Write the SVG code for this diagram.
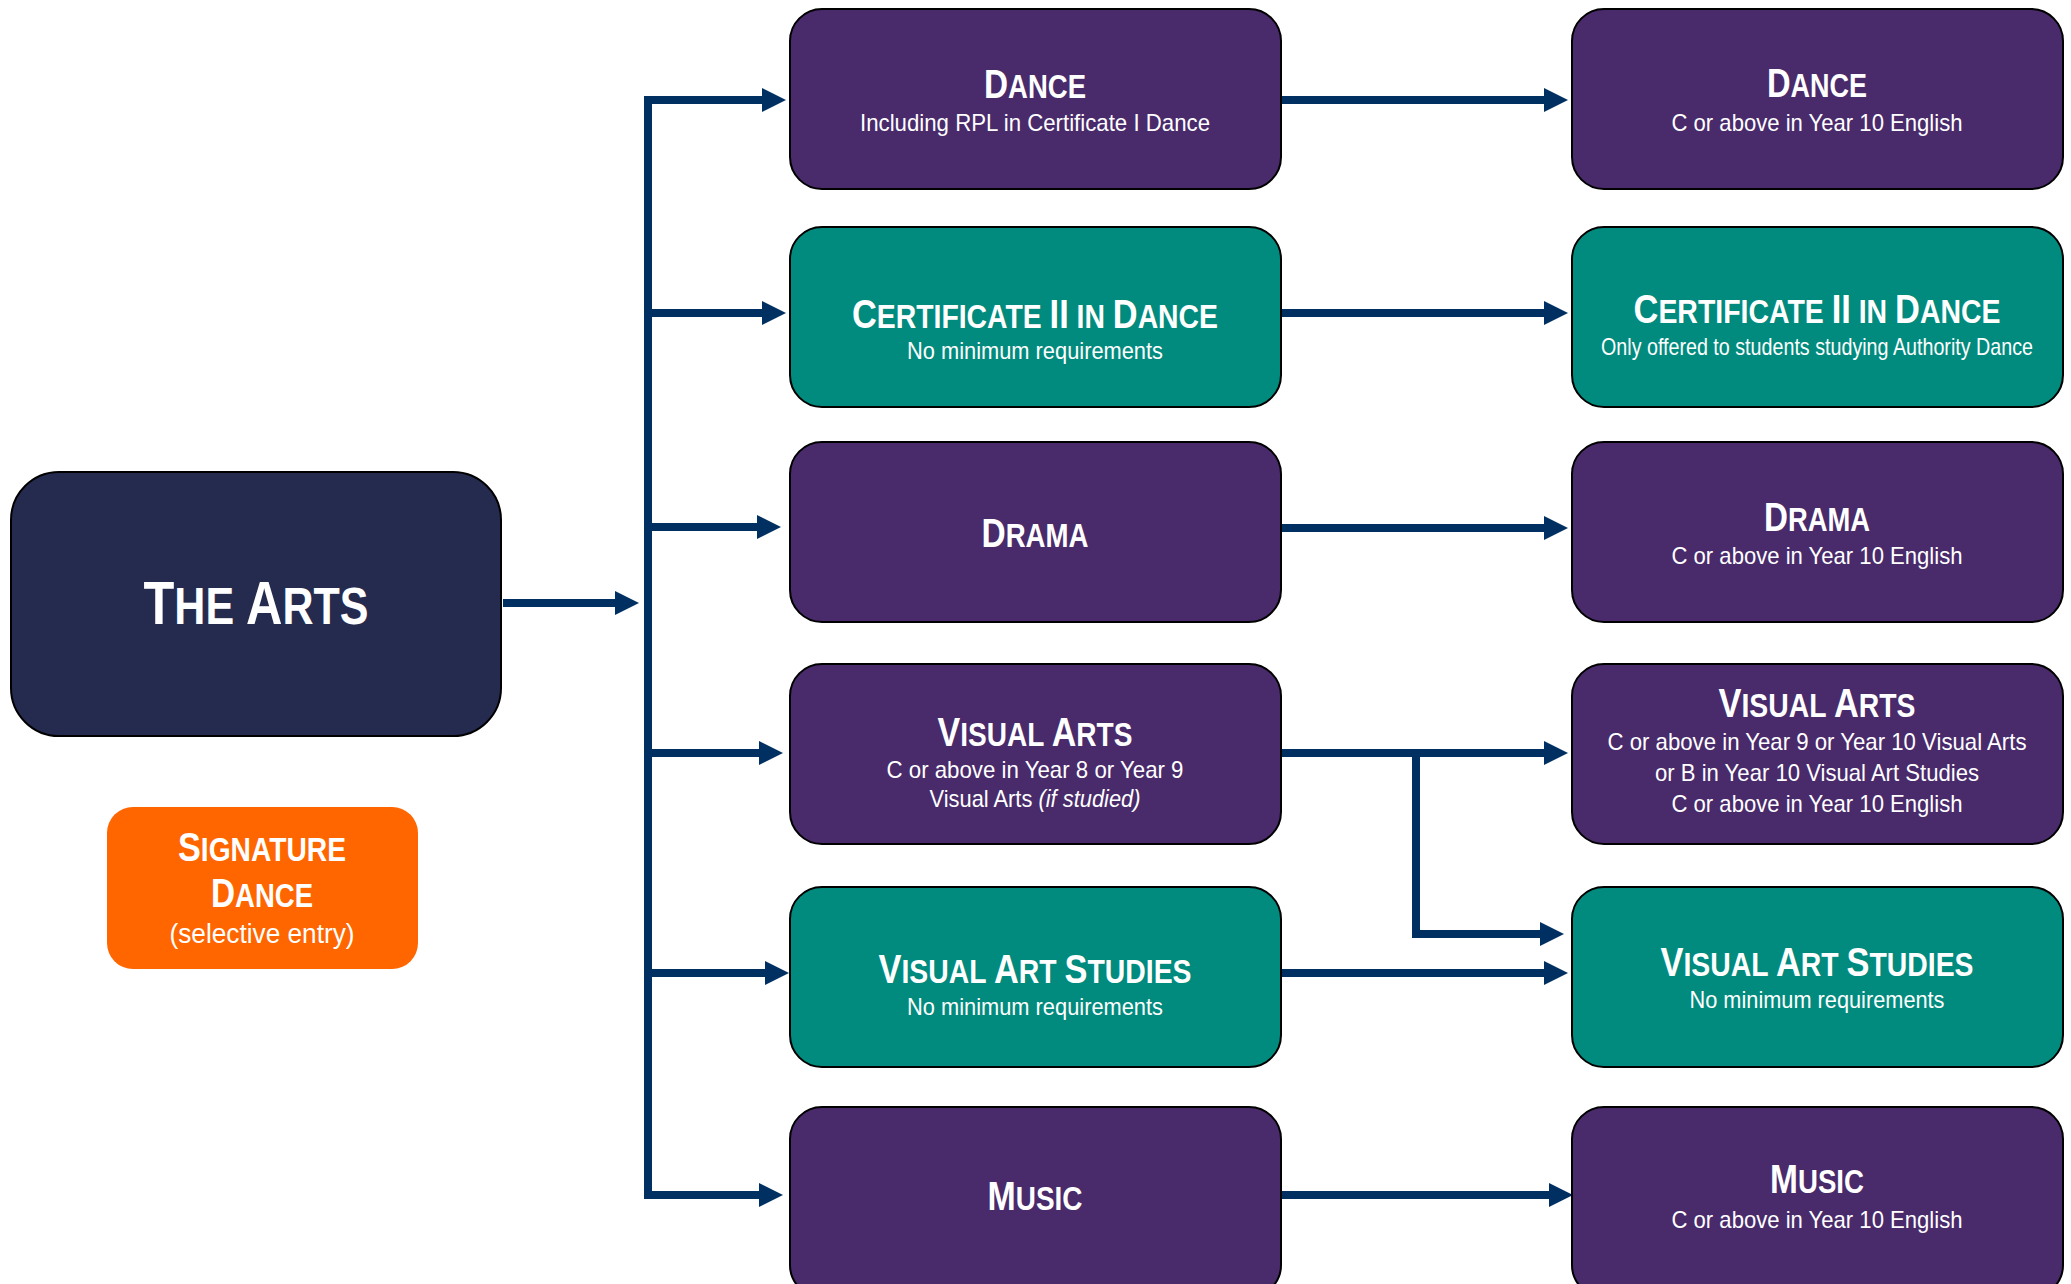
<svg xmlns="http://www.w3.org/2000/svg" width="2071" height="1284" viewBox="0 0 2071 1284">
<style>
.bg{fill:#ffffff}
.purple{fill:#492A6B;stroke:#000;stroke-width:2}
.teal{fill:#008B7E;stroke:#000;stroke-width:2}
.navy{fill:#252B4E;stroke:#000;stroke-width:2}
.orange{fill:#FF6600}
text{font-family:"Liberation Sans Narrow","Liberation Sans",Arial,sans-serif;fill:#fff;text-anchor:middle}
.t{font-size:33px;font-weight:bold}
.t .c{font-size:40px}
.s{font-size:24px}
.big{font-size:52px;font-weight:bold}
.big .c{font-size:61px}
.conn{fill:none;stroke:#002F62;stroke-width:8}
</style>
<defs>
<marker id="ah" markerUnits="userSpaceOnUse" markerWidth="26" markerHeight="26" refX="0" refY="13" orient="auto">
<path d="M0,1 L24,13 L0,25 Z" fill="#002F62"/>
</marker>
</defs>
<rect class="bg" x="0" y="0" width="2071" height="1284"/>

<g id="connectors">
<path class="conn" d="M503,603 H615" marker-end="url(#ah)"/>
<path class="conn" d="M648,96 V1199"/>
<path class="conn" d="M644,100 H762" marker-end="url(#ah)"/>
<path class="conn" d="M652,313 H762" marker-end="url(#ah)"/>
<path class="conn" d="M652,527 H757" marker-end="url(#ah)"/>
<path class="conn" d="M652,753 H759" marker-end="url(#ah)"/>
<path class="conn" d="M652,973 H765" marker-end="url(#ah)"/>
<path class="conn" d="M644,1195 H759" marker-end="url(#ah)"/>
<path class="conn" d="M1282,100 H1544" marker-end="url(#ah)"/>
<path class="conn" d="M1282,313 H1544" marker-end="url(#ah)"/>
<path class="conn" d="M1282,528 H1544" marker-end="url(#ah)"/>
<path class="conn" d="M1282,753 H1544" marker-end="url(#ah)"/>
<path class="conn" d="M1416,753 V934 H1540" marker-end="url(#ah)"/>
<path class="conn" d="M1282,973 H1544" marker-end="url(#ah)"/>
<path class="conn" d="M1282,1195 H1549" marker-end="url(#ah)"/>
</g>

<g id="the-arts">
<rect class="navy" x="11" y="472" width="490" height="264" rx="48"/>
<text class="big" x="256" y="624" textLength="225" lengthAdjust="spacingAndGlyphs"><tspan class="c">T</tspan>HE <tspan class="c">A</tspan>RTS</text>
</g>

<g id="signature-dance">
<rect class="orange" x="107" y="807" width="311" height="162" rx="26"/>
<text class="t" x="262" y="861" textLength="168" lengthAdjust="spacingAndGlyphs"><tspan class="c">S</tspan>IGNATURE</text>
<text class="t" x="262" y="907" textLength="102" lengthAdjust="spacingAndGlyphs"><tspan class="c">D</tspan>ANCE</text>
<text x="262" y="943" style="font-size:27px" textLength="185" lengthAdjust="spacingAndGlyphs">(selective entry)</text>
</g>

<g id="m-dance">
<rect class="purple" x="790" y="9" width="491" height="180" rx="32"/>
<text class="t" x="1035" y="98" textLength="102" lengthAdjust="spacingAndGlyphs"><tspan class="c">D</tspan>ANCE</text>
<text class="s" x="1035" y="131" textLength="350" lengthAdjust="spacingAndGlyphs">Including RPL in Certificate I  Dance</text>
</g>

<g id="m-cert2">
<rect class="teal" x="790" y="227" width="491" height="180" rx="32"/>
<text class="t" x="1035" y="328" textLength="366" lengthAdjust="spacingAndGlyphs"><tspan class="c">C</tspan>ERTIFICATE <tspan class="c">II</tspan> IN <tspan class="c">D</tspan>ANCE</text>
<text class="s" x="1035" y="359" textLength="256" lengthAdjust="spacingAndGlyphs">No minimum requirements</text>
</g>

<g id="m-drama">
<rect class="purple" x="790" y="442" width="491" height="180" rx="32"/>
<text class="t" x="1035" y="547" textLength="107" lengthAdjust="spacingAndGlyphs"><tspan class="c">D</tspan>RAMA</text>
</g>

<g id="m-visual-arts">
<rect class="purple" x="790" y="664" width="491" height="180" rx="32"/>
<text class="t" x="1035" y="746" textLength="195" lengthAdjust="spacingAndGlyphs"><tspan class="c">V</tspan>ISUAL <tspan class="c">A</tspan>RTS</text>
<text class="s" x="1035" y="778" textLength="297" lengthAdjust="spacingAndGlyphs">C or above in Year 8 or Year 9</text>
<text class="s" x="1035" y="807" textLength="211" lengthAdjust="spacingAndGlyphs">Visual Arts <tspan font-style="italic">(if studied)</tspan></text>
</g>

<g id="m-vas">
<rect class="teal" x="790" y="887" width="491" height="180" rx="32"/>
<text class="t" x="1035" y="983" textLength="313" lengthAdjust="spacingAndGlyphs"><tspan class="c">V</tspan>ISUAL <tspan class="c">A</tspan>RT <tspan class="c">S</tspan>TUDIES</text>
<text class="s" x="1035" y="1015" textLength="256" lengthAdjust="spacingAndGlyphs">No minimum requirements</text>
</g>

<g id="m-music">
<rect class="purple" x="790" y="1107" width="491" height="190" rx="32"/>
<text class="t" x="1035" y="1210" textLength="95" lengthAdjust="spacingAndGlyphs"><tspan class="c">M</tspan>USIC</text>
</g>

<g id="r-dance">
<rect class="purple" x="1572" y="9" width="491" height="180" rx="32"/>
<text class="t" x="1817" y="97" textLength="100" lengthAdjust="spacingAndGlyphs"><tspan class="c">D</tspan>ANCE</text>
<text class="s" x="1817" y="131" textLength="291" lengthAdjust="spacingAndGlyphs">C or above in Year 10 English</text>
</g>

<g id="r-cert2">
<rect class="teal" x="1572" y="227" width="491" height="180" rx="32"/>
<text class="t" x="1817" y="323" textLength="367" lengthAdjust="spacingAndGlyphs"><tspan class="c">C</tspan>ERTIFICATE <tspan class="c">II</tspan> IN <tspan class="c">D</tspan>ANCE</text>
<text class="s" x="1817" y="355" textLength="432" lengthAdjust="spacingAndGlyphs">Only offered to students studying Authority Dance</text>
</g>

<g id="r-drama">
<rect class="purple" x="1572" y="442" width="491" height="180" rx="32"/>
<text class="t" x="1817" y="531" textLength="106" lengthAdjust="spacingAndGlyphs"><tspan class="c">D</tspan>RAMA</text>
<text class="s" x="1817" y="564" textLength="291" lengthAdjust="spacingAndGlyphs">C or above in Year 10 English</text>
</g>

<g id="r-visual-arts">
<rect class="purple" x="1572" y="664" width="491" height="180" rx="32"/>
<text class="t" x="1817" y="717" textLength="197" lengthAdjust="spacingAndGlyphs"><tspan class="c">V</tspan>ISUAL <tspan class="c">A</tspan>RTS</text>
<text class="s" x="1817" y="750" textLength="419" lengthAdjust="spacingAndGlyphs">C or above in Year 9 or Year 10 Visual Arts</text>
<text class="s" x="1817" y="781" textLength="324" lengthAdjust="spacingAndGlyphs">or B in Year 10 Visual Art Studies</text>
<text class="s" x="1817" y="812" textLength="291" lengthAdjust="spacingAndGlyphs">C or above in Year 10 English</text>
</g>

<g id="r-vas">
<rect class="teal" x="1572" y="887" width="491" height="180" rx="32"/>
<text class="t" x="1817" y="976" textLength="313" lengthAdjust="spacingAndGlyphs"><tspan class="c">V</tspan>ISUAL <tspan class="c">A</tspan>RT <tspan class="c">S</tspan>TUDIES</text>
<text class="s" x="1817" y="1008" textLength="255" lengthAdjust="spacingAndGlyphs">No minimum requirements</text>
</g>

<g id="r-music">
<rect class="purple" x="1572" y="1107" width="491" height="190" rx="32"/>
<text class="t" x="1817" y="1193" textLength="94" lengthAdjust="spacingAndGlyphs"><tspan class="c">M</tspan>USIC</text>
<text class="s" x="1817" y="1228" textLength="291" lengthAdjust="spacingAndGlyphs">C or above in Year 10 English</text>
</g>
</svg>
